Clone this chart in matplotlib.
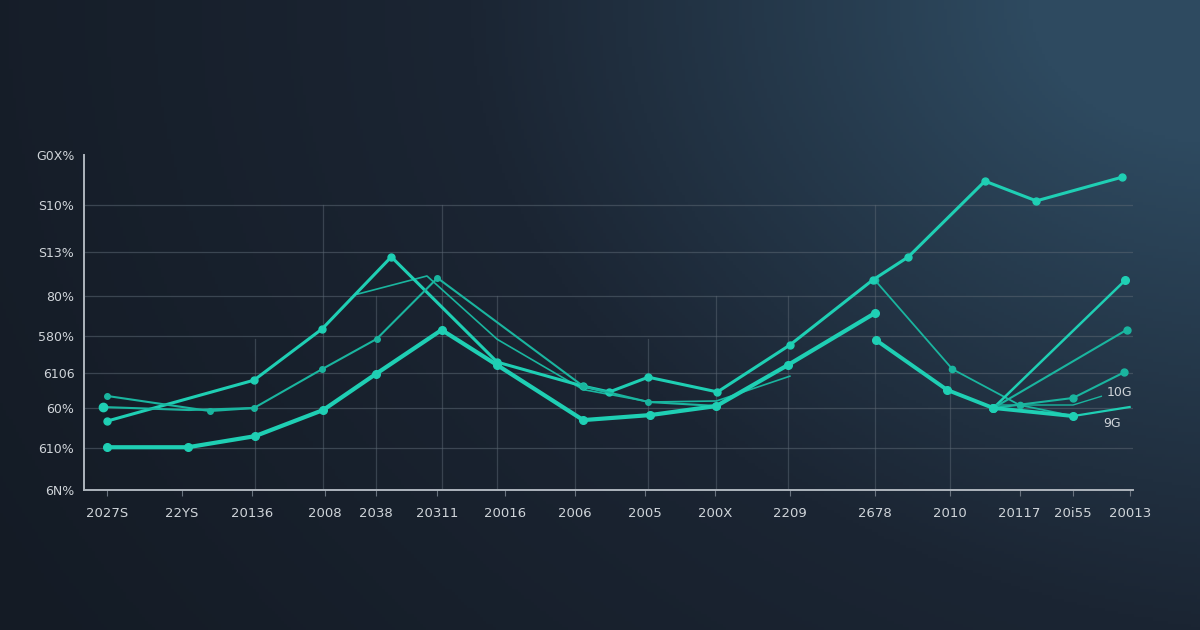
import numpy as np
import matplotlib
matplotlib.use('Agg')
import matplotlib.pyplot as plt
from matplotlib.colors import LinearSegmentedColormap

# x in 0..100 (position along the timeline), y in percent 0..100
xtick_pos = [2.2, 9.3, 16.0, 23.0, 27.8, 33.7, 40.1, 46.8, 53.5, 60.2, 67.3, 75.4, 82.6, 89.2, 94.3, 99.7]
xtick_labels = ['2027S', '22YS', '20136', '2008', '2038', '20311', '20016', '2006',
                '2005', '200X', '2209', '2678', '2010', '20117', '20i55', '20013']
ytick_pos = [0, 12.5, 24.5, 35, 46, 58, 71, 85, 100]
ytick_labels = ['6N%', '610%', '60%', '6106', '580%', '80%', 'S13%', 'S10%', 'G0X%']

thick_x = [2.2, 9.9, 16.3, 22.8, 27.8, 34.1, 39.4, 47.6, 54.0, 60.3, 67.1, 75.4]
thick_y = [12.8, 12.8, 16.1, 23.9, 34.6, 47.8, 37.3, 20.9, 22.4, 25.1, 37.3, 52.8]

tail_x = [75.5, 82.3, 86.7, 94.3, 99.7]
tail_y = [44.8, 29.9, 24.5, 22.1, 24.8]

top_x = [2.2, 16.2, 22.7, 29.3, 39.4, 47.6, 50.1, 53.8, 60.4, 67.3, 75.2, 78.6, 85.9, 90.8, 99.0]
top_y = [20.6, 32.8, 48.1, 69.6, 38.2, 31.0, 29.3, 33.7, 29.3, 43.3, 62.7, 69.6, 92.2, 86.3, 93.4]

mid_x = [2.2, 12.0, 16.2, 22.7, 27.9, 33.7, 47.6, 53.8, 60.4]
mid_y = [28.1, 23.6, 24.5, 36.1, 45.1, 63.3, 31.0, 26.3, 25.1]

flat_x = [1.8, 10.0, 16.2]
flat_y = [24.8, 23.9, 24.5]

branch_x = [26.1, 32.7, 39.4, 47.6, 54.0, 60.3, 67.3]
branch_y = [58.5, 63.9, 45.0, 30.0, 26.3, 26.6, 34.0]

fall_x = [75.4, 82.8, 89.2, 94.3]
fall_y = [62.7, 36.1, 25.4, 22.1]

rise1_x = [86.7, 99.3]
rise1_y = [24.5, 62.7]
rise2_x = [86.7, 99.4]
rise2_y = [24.5, 47.8]
rise3_x = [86.7, 94.3, 99.2]
rise3_y = [24.5, 27.5, 35.2]
rise4_x = [86.7, 94.3, 97.0]
rise4_y = [25.4, 25.4, 28.0]

vgrid = [(16.3, 45), (22.8, 85), (27.8, 58), (34.1, 85), (39.4, 58), (46.8, 35),
         (53.8, 45), (60.3, 58), (67.1, 58), (75.4, 85), (82.6, 35)]

teal = '#1fcfb4'
teal2 = '#1ab59f'
txt = '#cfd4d9'

fig = plt.figure(figsize=(12, 6.3), dpi=100)

# background gradient, lighter towards the top right corner
bg = fig.add_axes([0, 0, 1, 1])
yy, xx = np.mgrid[0:1:200j, 0:1:380j]
d = np.sqrt(((1 - xx) * 1.1) ** 2 + ((1 - yy) * 0.8) ** 2)
t = np.clip(1 - d / 1.5, 0, 1) ** 1.3
t = t + 0.15 * xx
cmap = LinearSegmentedColormap.from_list('bg', ['#141b25', '#1b2533', '#2e4a60'])
bg.imshow(np.clip(t, 0, 1), cmap=cmap, aspect='auto', extent=[0, 1, 0, 1], origin='lower')
bg.axis('off')

ax = fig.add_axes([0.07, 0.222, 0.874, 0.532])
ax.set_facecolor('none')
ax.set_xlim(0, 100)
ax.set_ylim(0, 100)

for y in ytick_pos[1:-1]:
    ax.axhline(y, color='#5a6672', lw=0.9, alpha=0.55, zorder=1)
for x, top in vgrid:
    ax.axvline(x, ymin=0, ymax=top / 100, color='#5a6672', lw=0.9, alpha=0.5, zorder=1)

ax.plot(thick_x, thick_y, color=teal, lw=3.0, marker='o', ms=5.5, zorder=5)
ax.plot(tail_x[:-1], tail_y[:-1], color=teal, lw=2.8, marker='o', ms=5.5, zorder=5)
ax.plot(tail_x[-2:], tail_y[-2:], color=teal, lw=1.6, zorder=5)
ax.plot(top_x, top_y, color=teal, lw=2.2, marker='o', ms=5, zorder=4)
ax.plot(mid_x, mid_y, color=teal2, lw=1.5, marker='o', ms=4, zorder=4)
ax.plot(flat_x, flat_y, color=teal2, lw=1.5, zorder=4)
ax.plot(flat_x[0], flat_y[0], 'o', color=teal, ms=6, zorder=4)
ax.plot(branch_x, branch_y, color=teal2, lw=1.2, zorder=3)
ax.plot(fall_x, fall_y, color=teal2, lw=1.3, marker='o', ms=4.5, zorder=3)
ax.plot(rise1_x, rise1_y, color=teal, lw=1.8, marker='o', ms=5.5, zorder=3)
ax.plot(rise2_x, rise2_y, color=teal2, lw=1.5, marker='o', ms=5, zorder=3)
ax.plot(rise3_x, rise3_y, color=teal2, lw=1.5, marker='o', ms=5, zorder=3)
ax.plot(rise4_x, rise4_y, color=teal2, lw=1.0, zorder=3)

ax.text(rise4_x[-1] + 0.5, rise4_y[-1] + 1, '10G', color=txt, fontsize=9, va='center')
ax.text(rise4_x[-1] + 0.2, rise4_y[-1] - 8, '9G', color=txt, fontsize=9, va='center')

for s in ['top', 'right']:
    ax.spines[s].set_visible(False)
for s in ['left', 'bottom']:
    ax.spines[s].set_color('#aeb5bd')
    ax.spines[s].set_linewidth(1.4)

ax.set_xticks(xtick_pos)
ax.set_xticklabels(xtick_labels, color=txt, fontsize=9.5)
ax.set_yticks(ytick_pos)
ax.set_yticklabels(ytick_labels, color=txt, fontsize=9)
ax.tick_params(axis='x', length=4, color='#6a7480', pad=8)
ax.tick_params(axis='y', length=0, pad=7)

fig.savefig('out.png', dpi=100)
